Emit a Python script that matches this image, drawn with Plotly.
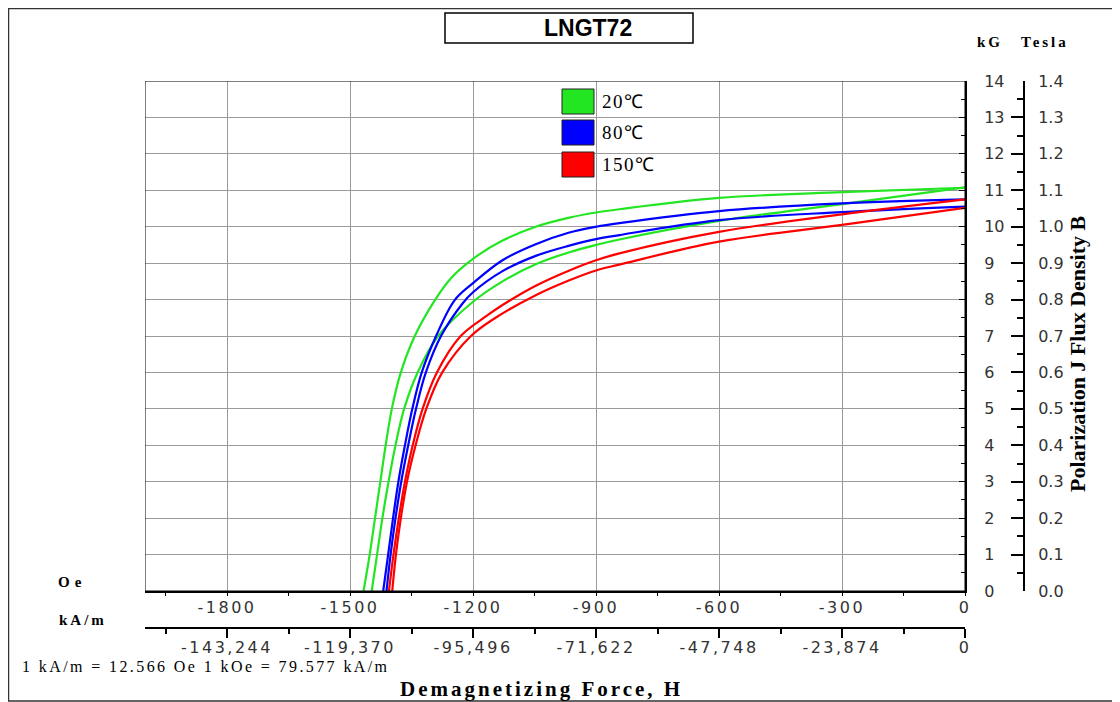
import plotly.graph_objects as go

# ---------------- data ----------------
OE_RANGE = [-2000, 0]
KG_RANGE = [0, 14]
TESLA_RANGE = [0, 1.4]

oe_tickvals = [-1800, -1500, -1200, -900, -600, -300, 0]
oe_ticktext = ["-1800", "-1500", "-1200", "-900", "-600", "-300", "0"]
kam_ticktext = ["-143,244", "-119,370", "-95,496", "-71,622", "-47,748", "-23,874", "0"]

# 20 C (green) - two curves
g1_h = [-1467, -1452, -1439, -1426, -1413, -1398, -1376, -1342, -1292, -1251, -1200, -1128, -1047, -965, -900, -843, -600, -300, 0]
g1_b = [0, 1, 2, 3, 4, 5, 6, 7, 8, 8.62, 9.12, 9.62, 10.0, 10.25, 10.39, 10.48, 10.79, 10.95, 11.07]
g2_h = [-1447, -1434, -1421, -1406, -1389, -1368, -1335, -1285, -1200, -1128, -1047, -965, -900, -843, -600, -300, 0]
g2_b = [0, 1, 2, 3, 4, 5, 6, 7, 7.94, 8.5, 8.97, 9.3, 9.5, 9.65, 10.16, 10.62, 11.08]

# 80 C (blue)
b1_h = [-1419, -1407, -1395, -1382, -1366, -1348, -1325, -1290, -1245, -1200, -1128, -1047, -965, -900, -843, -600, -300, 0]
b1_b = [0, 1, 2, 3, 4, 5, 6, 7, 7.98, 8.45, 9.08, 9.52, 9.84, 10.0, 10.1, 10.43, 10.64, 10.75]
b2_h = [-1411, -1401, -1389, -1375, -1358, -1339, -1315, -1278, -1225, -1200, -1128, -1047, -965, -900, -843, -600, -300, 0]
b2_b = [0, 1, 2, 3, 4, 5, 6, 7, 7.9, 8.2, 8.78, 9.2, 9.48, 9.66, 9.77, 10.18, 10.4, 10.55]

# 150 C (red)
r1_h = [-1405, -1394, -1381, -1366, -1347, -1323, -1288, -1230, -1167, -1128, -1047, -965, -900, -843, -600, -300, 0]
r1_b = [0, 1, 2, 3, 4, 5, 6, 7, 7.55, 7.85, 8.38, 8.8, 9.08, 9.27, 9.86, 10.34, 10.75]
r2_h = [-1397, -1388, -1376, -1361, -1340, -1314, -1275, -1205, -1145, -1047, -965, -900, -843, -600, -300, 0]
r2_b = [0, 1, 2, 3, 4, 5, 6, 7, 7.5, 8.12, 8.53, 8.8, 8.96, 9.59, 10.05, 10.52]

series = [
    ("20℃", "#22e622", [(g1_h, g1_b), (g2_h, g2_b)]),
    ("80℃", "#0000ff", [(b1_h, b1_b), (b2_h, b2_b)]),
    ("150℃", "#ff0000", [(r1_h, r1_b), (r2_h, r2_b)]),
]

# ---------------- layout geometry ----------------
# the page body has an 8px margin, so the figure starts at (8, 8) in the window
OFF = 8
W, H = 1120 - OFF, 702 - OFF
PLOT_LEFT, PLOT_TOP = 145, 81          # window pixels
PLOT_RIGHT, PLOT_BOTTOM = 965, 591
TESLA_X, KAM_Y = 1024, 628
L, T = PLOT_LEFT - OFF, PLOT_TOP - OFF
R, B = W - (TESLA_X - OFF), H - (KAM_Y - OFF)
PW, PH = W - L - R, H - T - B


def px(x):
    return (x - OFF - L) / PW


def py(y):
    return (H - B - (y - OFF)) / PH


def spaced(s, sp):
    return '<span style="letter-spacing:%spx">%s</span>' % (sp, s)


SERIF = "Liberation Serif"
SANS = "DejaVu Sans"

fig = go.Figure()

for name, color, curves in series:
    for hx, by in curves:
        fig.add_trace(go.Scatter(x=hx, y=by, mode="lines", name=name,
                                 line=dict(color=color, width=2.2, shape="spline", smoothing=1.0),
                                 showlegend=False, hoverinfo="skip"))

# invisible helpers so the secondary axes are drawn
fig.add_trace(go.Scatter(x=OE_RANGE, y=KG_RANGE, xaxis="x2", yaxis="y", mode="markers",
                         marker=dict(opacity=0), showlegend=False, hoverinfo="skip"))
fig.add_trace(go.Scatter(x=OE_RANGE, y=TESLA_RANGE, xaxis="x", yaxis="y2", mode="markers",
                         marker=dict(opacity=0), showlegend=False, hoverinfo="skip"))

xdom = [0, px(PLOT_RIGHT)]
ydom = [py(PLOT_BOTTOM), 1]

xtickfont = dict(family=SANS, size=16, color="#333")
ytickfont = dict(family=SANS, size=16, color="#333")

fig.update_layout(
    width=W, height=H,
    margin=dict(l=L, r=R, t=T, b=B),
    paper_bgcolor="white", plot_bgcolor="white",
    showlegend=False,
    xaxis=dict(domain=xdom, range=OE_RANGE, anchor="y",
               tickmode="array", tickvals=oe_tickvals, ticktext=[spaced(t, 2.5) for t in oe_ticktext],
               showgrid=True, gridcolor="#9a9a9a", gridwidth=1, zeroline=False,
               showline=True, linecolor="black", linewidth=2,
               ticks="outside", ticklen=3, tickcolor="black",
               minor=dict(dtick=150, tick0=0, ticks="outside", ticklen=3, tickcolor="black", showgrid=False),
               ticklabelstandoff=-2,
               tickfont=xtickfont),
    xaxis2=dict(domain=xdom, range=OE_RANGE, overlaying="x", anchor="free", position=0, side="bottom",
                tickmode="array", tickvals=oe_tickvals, ticktext=[spaced(t, 2.5) for t in kam_ticktext],
                showgrid=False, zeroline=False,
                showline=True, linecolor="black", linewidth=2,
                ticks="outside", ticklen=9, tickwidth=2, tickcolor="black",
                minor=dict(dtick=150, tick0=0, ticks="outside", ticklen=5, tickwidth=2, tickcolor="black", showgrid=False),
                ticklabelstandoff=-4,
                tickfont=xtickfont),
    yaxis=dict(domain=ydom, range=KG_RANGE, anchor="x", side="right",
               dtick=1, tick0=0,
               showgrid=True, gridcolor="#9a9a9a", gridwidth=1, zeroline=False,
               showline=True, linecolor="black", linewidth=2,
               ticks="inside", ticklen=6, tickcolor="black",
               minor=dict(dtick=0.5, tick0=0, ticks="inside", ticklen=4, tickcolor="black", showgrid=False),
               ticklabelstandoff=14,
               tickfont=ytickfont),
    yaxis2=dict(range=TESLA_RANGE, overlaying="y", anchor="free", position=1, side="right",
                dtick=0.1, tick0=0, tickformat=".1f",
                showgrid=False, zeroline=False,
                showline=True, linecolor="black", linewidth=2,
                ticks="inside", ticklen=12, tickwidth=2, tickcolor="black",
                minor=dict(dtick=0.05, tick0=0, ticks="inside", ticklen=6, tickwidth=2, tickcolor="black", showgrid=False),
                ticklabelstandoff=10,
                tickfont=ytickfont),
)

shapes = []
# plot-area border
shapes.append(dict(type="rect", xref="x", yref="y", x0=OE_RANGE[0], x1=OE_RANGE[1],
                   y0=KG_RANGE[0], y1=KG_RANGE[1], line=dict(color="black", width=1), layer="above"))
# outer frame
shapes.append(dict(type="rect", xref="paper", yref="paper", x0=px(8.5), x1=px(1113), y0=py(701), y1=py(8.5),
                   line=dict(color="#333", width=1.5)))
# title box
shapes.append(dict(type="rect", xref="paper", yref="paper", x0=px(445), x1=px(693), y0=py(43), y1=py(13),
                   line=dict(color="black", width=1.5), fillcolor="white"))
# legend swatches
legend_rows = [(89, 114), (120, 145), (152, 177)]
for (y0, y1), (name, color, _) in zip(legend_rows, series):
    shapes.append(dict(type="rect", xref="paper", yref="paper", x0=px(562), x1=px(594), y0=py(y1), y1=py(y0),
                       line=dict(color="#222", width=1), fillcolor=color, layer="above"))
fig.update_layout(shapes=shapes)

ann = []


def text(x, y, s, size, family=SERIF, bold=False, xanchor="center", angle=0, color="black", sp=0):
    if sp:
        s = spaced(s, sp)
    ann.append(dict(xref="paper", yref="paper", x=px(x), y=py(y), text=("<b>%s</b>" % s) if bold else s,
                    showarrow=False, xanchor=xanchor, yanchor="middle", textangle=angle,
                    font=dict(family=family, size=size, color=color)))


text(588, 28, "LNGT72", 23, family="Liberation Sans", bold=True)
for (y0, y1), (name, color, _) in zip(legend_rows, series):
    text(600, (y0 + y1) / 2, name, 19, xanchor="left", sp=1.5)
text(990, 42, "kG", 15, bold=True, sp=3)
text(1045, 42, "Tesla", 15, bold=True, sp=3)
text(1077, 354, "Polarization J Flux Density B", 22, bold=True, angle=-90)
text(72, 582, "Oe", 15, bold=True, sp=5)
text(83, 620, "kA/m", 15, bold=True, sp=3)
text(20, 666, "1 kA/m = 12.566 Oe 1 kOe = 79.577 kA/m", 16, xanchor="left", sp=2.4)
text(541, 689, "Demagnetizing Force, H", 21, bold=True, sp=3)
fig.update_layout(annotations=ann)

fig.write_html("out.html")
